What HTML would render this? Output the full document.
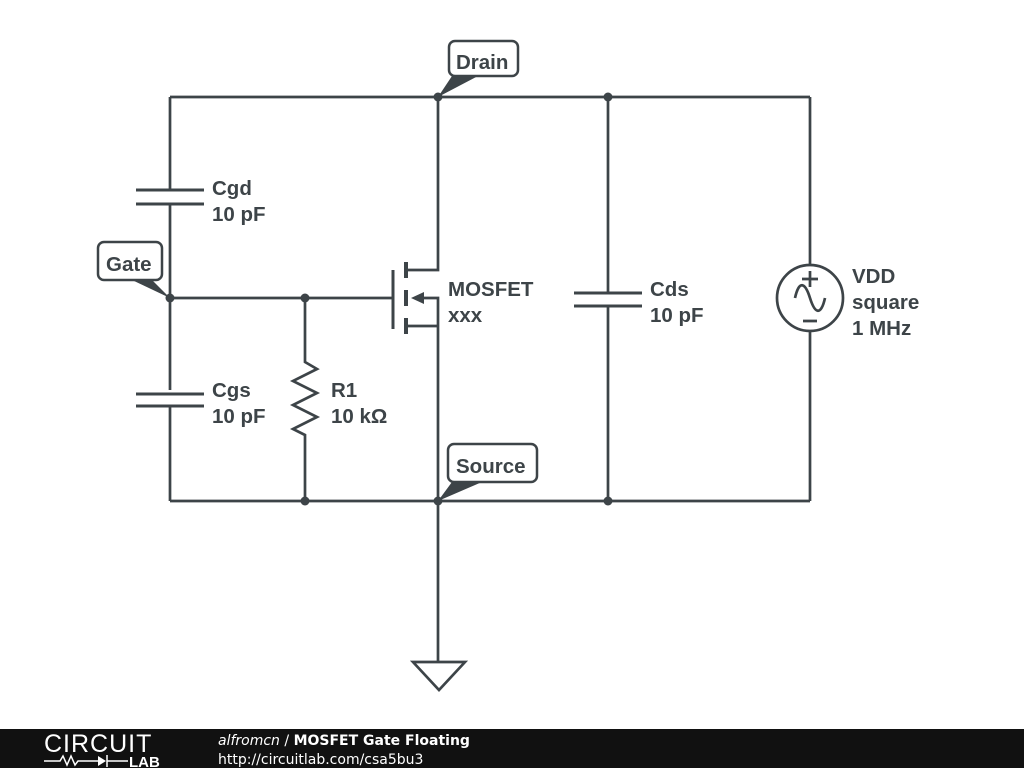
<!DOCTYPE html>
<html><head><meta charset="utf-8"><style>
html,body{margin:0;padding:0;background:#fff;width:1024px;height:768px;overflow:hidden}
svg{display:block}
text{font-family:"Liberation Sans",sans-serif;font-weight:bold;fill:#3d4448;font-size:20.5px}
</style></head><body>
<svg width="1024" height="768" viewBox="0 0 1024 768" xmlns="http://www.w3.org/2000/svg">
<g stroke="#3d4448" stroke-width="2.7" fill="none">
<path d="M170 97H810M170 501H810"/>
<path d="M170 97V190M170 204V390M170 406V501"/>
<path d="M136 190H204M136 204H204M136 394H204M136 406H204" stroke-width="3"/>
<path d="M170 298H393"/>
<path d="M305 298V362L317 369L293 381L317 393L293 405L317 417L293 429L305 435V501"/>
<path d="M393 270V329" stroke-width="3"/>
<path d="M406 262V278M406 290V306M406 318V334" stroke-width="4"/>
<path d="M406 270H438V97M406 326H438V662M416 298H438V326"/>
<path d="M608 97V293M608 306V501"/>
<path d="M574 293H642M574 306H642" stroke-width="3"/>
<path d="M810 97V265M810 331V501"/>
<circle cx="810" cy="298" r="33"/>
<path d="M810 271V287M802 279H818M803 321H817"/>
<path d="M795 298C799 280 805 282 810 298C815 314 821 316 825 298" />
<path d="M413 662H465L439 690Z"/>
</g>
<polygon points="411,298 424,292 424,304" fill="#3d4448"/>
<g fill="#3d4448">
<circle cx="438" cy="97" r="4.5"/><circle cx="608" cy="97" r="4.5"/>
<circle cx="170" cy="298" r="4.5"/><circle cx="305" cy="298" r="4.5"/>
<circle cx="305" cy="501" r="4.5"/><circle cx="438" cy="501" r="4.5"/><circle cx="608" cy="501" r="4.5"/>
<polygon points="438,97 452,76 478,76"/>
<polygon points="170,298 132,280 152,280"/>
<polygon points="438,501 452,482 482,482"/>
</g>
<g fill="#fff" stroke="#3d4448" stroke-width="2.5">
<rect x="449" y="41" width="69" height="35" rx="6"/>
<rect x="98" y="242" width="64" height="38" rx="6"/>
<rect x="448" y="444" width="89" height="38" rx="6"/>
</g>
<text x="456" y="69">Drain</text>
<text x="106" y="271">Gate</text>
<text x="456" y="473">Source</text>
<text x="212" y="195">Cgd</text><text x="212" y="221">10 pF</text>
<text x="212" y="397">Cgs</text><text x="212" y="423">10 pF</text>
<text x="331" y="397">R1</text><text x="331" y="423">10 kΩ</text>
<text x="448" y="296">MOSFET</text><text x="448" y="322">xxx</text>
<text x="650" y="296">Cds</text><text x="650" y="322">10 pF</text>
<text x="852" y="283">VDD</text><text x="852" y="309">square</text><text x="852" y="335">1 MHz</text>
<rect x="0" y="729" width="1024" height="39" fill="#111"/>
<text x="44" y="752" style="font-weight:normal;font-size:25px;fill:#fff;letter-spacing:1px">CIRCUIT</text>
<path d="M44 761H60L63 756L67 765L71 756L75 765L78 761H98" stroke="#fff" stroke-width="1.5" fill="none"/>
<polygon points="98,756 98,766 106,761" fill="#fff"/>
<path d="M107 755V767M107 761H128" stroke="#fff" stroke-width="1.5"/>
<text x="129" y="767" style="font-size:15px;fill:#fff">LAB</text>
<text x="218" y="745" style="font-family:'DejaVu Sans',sans-serif;font-size:14px;fill:#fff"><tspan style="font-style:italic;font-weight:normal">alfromcn</tspan><tspan style="font-weight:normal"> / </tspan>MOSFET Gate Floating</text>
<text x="218" y="764" style="font-family:'DejaVu Sans',sans-serif;font-weight:normal;font-size:14px;fill:#fff">http://circuitlab.com/csa5bu3</text>
</svg>
</body></html>
